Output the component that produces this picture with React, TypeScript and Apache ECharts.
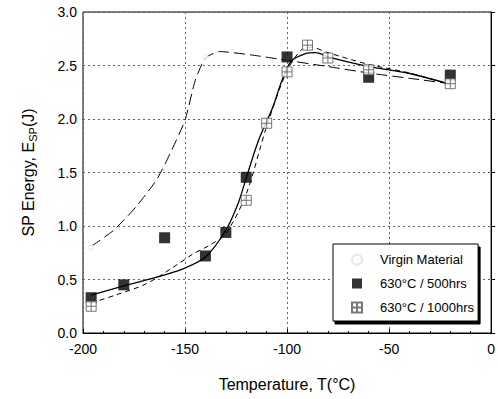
import React, { useEffect, useRef } from "react";
import * as echarts from "echarts";

const xTicks = [-200, -150, -100, -50, 0];
const yTicks = [0, 0.5, 1.0, 1.5, 2.0, 2.5, 3.0];

// fitted curves
const virginCurveX = [-196, -185, -174, -164, -158, -150, -145, -140, -133, -118, -104, -80, -60, -40, -20];
const virginCurveY = [0.81, 0.96, 1.18, 1.43, 1.65, 1.99, 2.36, 2.57, 2.63, 2.6, 2.56, 2.49, 2.43, 2.38, 2.33];

const h500CurveX = [-196, -180, -166, -151, -140, -130, -124, -120, -114, -107, -102.5, -98, -91, -86, -80, -60, -41, -21];
const h500CurveY = [0.355, 0.44, 0.51, 0.6, 0.71, 0.96, 1.21, 1.45, 1.8, 2.11, 2.36, 2.54, 2.61, 2.62, 2.58, 2.49, 2.43, 2.33];

const h1000CurveX = [-196, -184, -169, -153, -146, -138, -130, -120, -110, -100, -92, -88, -80, -60, -40, -20];
const h1000CurveY = [0.28, 0.355, 0.46, 0.65, 0.74, 0.82, 0.93, 1.3, 1.93, 2.45, 2.66, 2.67, 2.62, 2.51, 2.43, 2.32];

// measured points
const virginX = [-196, -160, -140, -100, -60, -20];
const virginY = [0.8, 1.55, 2.58, 2.57, 2.45, 2.33];

const h500X = [-196, -180, -160, -140, -130, -120, -100, -60, -20];
const h500Y = [0.33, 0.45, 0.89, 0.72, 0.94, 1.455, 2.58, 2.39, 2.41];

const h1000X = [-196, -120, -110, -100, -90, -80, -60, -20];
const h1000Y = [0.25, 1.24, 1.96, 2.44, 2.69, 2.57, 2.46, 2.33];

const names = ["Virgin Material", "630°C / 500hrs", "630°C / 1000hrs"];

const zip = (xs: number[], ys: number[]) => xs.map((x, i) => [x, ys[i]]);

const FONT = "'Liberation Sans', Arial, sans-serif";

export default function App() {
  const ref = useRef<HTMLDivElement>(null);
  useEffect(() => {
    if (!ref.current) return;
    const chart = echarts.init(ref.current, undefined, { renderer: "svg" });
    const crossSquare = "path://M0,0H10V10H0ZM5,0V10M0,5H10";
    const square = "path://M0,0H10V10H0Z";
    chart.setOption({
      animation: false,
      backgroundColor: "#fff",
      textStyle: { fontFamily: FONT },
      grid: {
        left: 83,
        top: 12,
        right: 4,
        bottom: 66,
        show: true,
        borderColor: "#000",
        borderWidth: 1,
        backgroundColor: "transparent",
      },
      legend: {
        data: names,
        orient: "vertical",
        left: 333,
        top: 244,
        padding: [9, 4, 7, 18],
        itemWidth: 36,
        itemHeight: 10,
        itemGap: 11,
        backgroundColor: "#fff",
        borderColor: "#000",
        borderWidth: 1,
        shadowColor: "#000",
        shadowBlur: 0,
        shadowOffsetX: 2,
        shadowOffsetY: 3,
        textStyle: { fontFamily: FONT, fontSize: 13, color: "#000" },
      },
      xAxis: {
        type: "value",
        min: -200,
        max: 0,
        interval: 50,
        name: "Temperature, T(°C)",
        nameLocation: "middle",
        nameGap: 43,
        nameTextStyle: { fontFamily: FONT, fontSize: 16, color: "#000" },
        axisLine: { show: true, lineStyle: { color: "#000", width: 1 } },
        axisTick: { show: true, inside: true, length: 4, lineStyle: { color: "#000" } },
        minorTick: { show: true, splitNumber: 5, length: 2, lineStyle: { color: "#000" } },
        axisLabel: { fontFamily: FONT, fontSize: 14, color: "#000", margin: 9 },
        splitLine: { show: true, lineStyle: { color: "#666", type: [2, 3], width: 1 } },
      },
      yAxis: {
        type: "value",
        min: 0,
        max: 3,
        interval: 0.5,
        name: "SP Energy, E{s|SP}(J)",
        nameLocation: "middle",
        nameGap: 45,
        nameTextStyle: {
          fontFamily: FONT,
          fontSize: 16,
          color: "#000",
          lineHeight: 20,
          rich: {
            s: { fontFamily: FONT, fontSize: 11, color: "#000", lineHeight: 11, verticalAlign: "bottom" },
          },
        },
        axisLine: { show: true, lineStyle: { color: "#000", width: 1 } },
        axisTick: { show: true, inside: true, length: 4, lineStyle: { color: "#000" } },
        axisLabel: {
          fontFamily: FONT,
          fontSize: 14,
          color: "#000",
          margin: 6,
          formatter: (v: number) => v.toFixed(1),
        },
        splitLine: { show: true, lineStyle: { color: "#666", type: [2, 3], width: 1 } },
      },
      series: [
        {
          name: "virgin fit",
          type: "line",
          data: zip(virginCurveX, virginCurveY),
          smooth: 0.2,
          showSymbol: false,
          symbol: "none",
          lineStyle: { color: "#000", width: 1, type: [11, 5] },
          z: 2,
        },
        {
          name: "500 fit",
          type: "line",
          data: zip(h500CurveX, h500CurveY),
          smooth: 0.3,
          showSymbol: false,
          symbol: "none",
          lineStyle: { color: "#000", width: 1.3, type: "solid" },
          z: 2,
        },
        {
          name: "1000 fit",
          type: "line",
          data: zip(h1000CurveX, h1000CurveY),
          smooth: 0.3,
          showSymbol: false,
          symbol: "none",
          lineStyle: { color: "#000", width: 1, type: [5, 4] },
          z: 2,
        },
        {
          name: names[0],
          type: "scatter",
          data: zip(virginX, virginY),
          symbol: "circle",
          symbolSize: 5,
          itemStyle: { color: "#fff", borderColor: "#e2e2e2", borderWidth: 1 },
          z: 3,
        },
        {
          name: names[1],
          type: "scatter",
          data: zip(h500X, h500Y),
          symbol: square,
          symbolSize: 11,
          itemStyle: { color: "#000" },
          z: 4,
        },
        {
          name: names[2],
          type: "scatter",
          data: zip(h1000X, h1000Y),
          symbol: crossSquare,
          symbolSize: 10,
          itemStyle: { color: "#fff", borderColor: "#555", borderWidth: 1 },
          z: 5,
        },
      ],
    });
    return () => chart.dispose();
  }, []);
  return (
    <div
      ref={ref}
      style={{ position: "fixed", left: 0, top: 0, width: 498, height: 399, background: "#fff" }}
    />
  );
}
